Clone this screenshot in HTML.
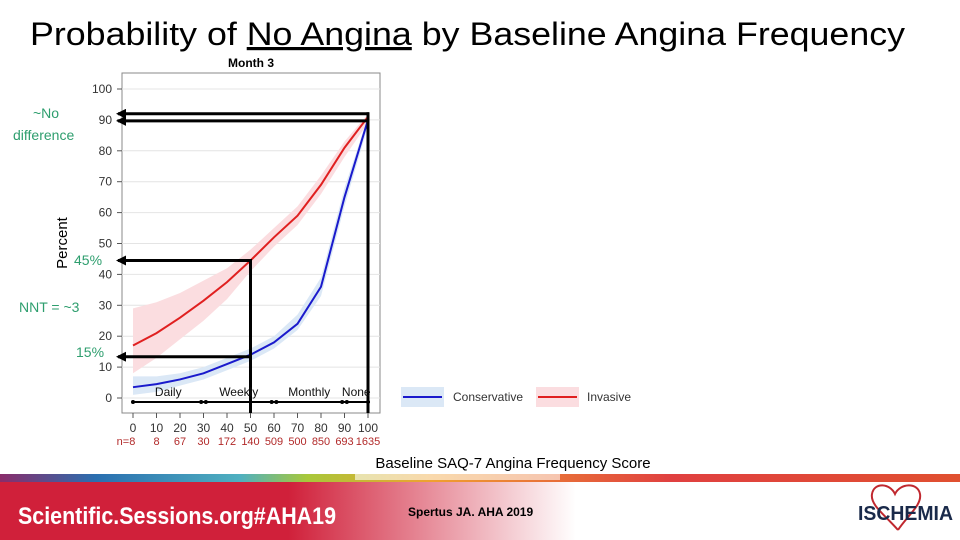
<!DOCTYPE html>
<html><head><meta charset="utf-8"><style>
html,body{margin:0;padding:0;background:#fff;}
svg{display:block;font-family:"Liberation Sans",sans-serif;}
</style></head><body>
<svg id="chart" width="960" height="540" viewBox="0 0 960 540" xmlns="http://www.w3.org/2000/svg">
<defs>
<linearGradient id="foot" x1="0" x2="1" y1="0" y2="0">
<stop offset="0" stop-color="#d0203a"/><stop offset="0.3" stop-color="#d0203a"/><stop offset="0.6" stop-color="#ffffff"/><stop offset="1" stop-color="#ffffff"/></linearGradient>
<linearGradient id="stripe" x1="0" x2="1" y1="0" y2="0">
<stop offset="0" stop-color="#8a2c6a"/><stop offset="0.1" stop-color="#2a6fb0"/><stop offset="0.25" stop-color="#4fb0c0"/><stop offset="0.32" stop-color="#a8c83a"/><stop offset="0.45" stop-color="#f0a030"/><stop offset="0.7" stop-color="#e04040"/><stop offset="1" stop-color="#e05030"/></linearGradient>
<marker id="ah" markerWidth="10" markerHeight="10" refX="8" refY="5" orient="auto" markerUnits="userSpaceOnUse"><path d="M0,0 L10,5 L0,10 Z" fill="#000"/></marker>
</defs>
<text x="30" y="45" font-size="32" textLength="875" lengthAdjust="spacingAndGlyphs" fill="#000">Probability of <tspan text-decoration="underline">No Angina</tspan> by Baseline Angina Frequency</text>
<text x="251" y="67" font-size="12" font-weight="bold" text-anchor="middle">Month 3</text>
<rect x="122" y="73" width="258" height="340" fill="none" stroke="#888" stroke-width="1"/>
<g id="grid"></g><g id="bands"></g><g id="lines"></g><g id="axes"></g><g id="ann"></g>
<text transform="translate(67,243) rotate(-90)" font-size="15" text-anchor="middle">Percent</text>
<text x="513" y="468" font-size="15" text-anchor="middle">Baseline SAQ-7 Angina Frequency Score</text>
<g>
<rect x="401" y="387" width="43" height="20" fill="#dbe8f6"/>
<line x1="403" y1="397" x2="442" y2="397" stroke="#1a1acc" stroke-width="2"/>
<text x="453" y="401" font-size="12" fill="#333">Conservative</text>
<rect x="536" y="387" width="43" height="20" fill="#fbdde0"/>
<line x1="538" y1="397" x2="577" y2="397" stroke="#e02020" stroke-width="2"/>
<text x="587" y="401" font-size="12" fill="#333">Invasive</text>
</g>
<rect x="0" y="474" width="960" height="8" fill="url(#stripe)"/>
<rect x="355" y="474" width="205" height="6" fill="#fff" opacity="0.6"/>
<rect x="0" y="482" width="960" height="58" fill="url(#foot)"/>
<text x="18" y="524" font-size="24" font-weight="bold" fill="#fff" textLength="318" lengthAdjust="spacingAndGlyphs">Scientific.Sessions.org#AHA19</text>
<text x="408" y="516" font-size="12" font-weight="bold" fill="#000">Spertus JA. AHA 2019</text>
<path d="M898,530 C885,515 870,505 872,494 C874,482 890,483 895,494 C900,483 918,482 920,494 C922,505 908,515 898,530" fill="none" stroke="#c0282f" stroke-width="2"/>
<text x="858" y="520" font-size="20" font-weight="bold" fill="#1a2a4a" textLength="95" lengthAdjust="spacingAndGlyphs">ISCHEMIA</text>
</svg>
<script>
const xTicks=[0,10,20,30,40,50,60,70,80,90,100];
const yTicks=[0,10,20,30,40,50,60,70,80,90,100];
const nLabels=["n=8","8","67","30","172","140","509","500","850","693","1635"];
const scores=[0,10,20,30,40,50,60,70,80,90,100];
const invasive=[17,21,26,31.5,37.5,44.5,52,59,69,81,91];
const invasiveHi=[29,31,34,38,42,48,55,62,72,83,92];
const invasiveLo=[8,13,19,25,32,41,49,56,66,78,89];
const conservative=[3.5,4.5,6,8,11,14,18,24,36,65,90];
const conservativeHi=[7,7,8,10,13,16,20,27,39,68,91];
const conservativeLo=[1,2,4,6,9,12,16,22,33,62,88];
const freqLabels=["Daily","Weekly","Monthly","None"];
const freqCenters=[15,45,75,95];
const NS="http://www.w3.org/2000/svg";
const X=v=>133+v*2.35, Y=v=>398-v*3.09;
function mk(t,a,p,txt){const e=document.createElementNS(NS,t);for(const k in a)e.setAttribute(k,a[k]);if(txt!==undefined)e.textContent=txt;p.appendChild(e);return e;}
const g=document.getElementById('grid'),b=document.getElementById('bands'),l=document.getElementById('lines'),ax=document.getElementById('axes'),an=document.getElementById('ann');
yTicks.forEach(v=>{
 const gl=mk('line',{x1:122,x2:380,y1:Y(v),y2:Y(v),stroke:'#e4e4e4'},g);
 
 const tk=mk('line',{x1:117,x2:122,y1:Y(v),y2:Y(v),stroke:'#555'},ax);
 
 const t=mk('text',{x:112,y:Y(v)+4,'font-size':12,'text-anchor':'end',fill:'#333'},ax,String(v));
 
});
xTicks.forEach((v,i)=>{
 const tk=mk('line',{x1:X(v),x2:X(v),y1:413,y2:418,stroke:'#555'},ax);
 
 const t=mk('text',{x:X(v),y:432,'font-size':12,'text-anchor':'middle',fill:'#333'},ax,String(v));
 
 const n=mk('text',{x:i==0?X(v)-7:X(v),y:445,'font-size':11,'text-anchor':'middle',fill:'#b22a2a'},ax,nLabels[i]);
 
});
function band(hi,lo,fill,name){
 let d='M'+scores.map((s,i)=>X(s)+','+Y(hi[i])).join(' L')+' L'+scores.slice().reverse().map((s,j)=>X(s)+','+Y(lo[lo.length-1-j])).join(' L')+'Z';
 const p=mk('path',{d:d,fill:fill},b);
}
band(invasiveHi,invasiveLo,'#fbdde0','invasive-ci-band');
band(conservativeHi,conservativeLo,'#dbe8f6','conservative-ci-band');
function line(vals,col,name){
 const p=mk('polyline',{points:scores.map((s,i)=>X(s)+','+Y(vals[i])).join(' '),fill:'none',stroke:col,'stroke-width':2},l);
 
}
line(invasive,'#e02020','invasive-line');
line(conservative,'#1a1acc','conservative-line');
function hl(y,x2,name){const e=mk('line',{x1:x2,y1:y,x2:118,y2:y,stroke:'#000','stroke-width':3,'marker-end':'url(#ah)'},an);}
hl(Y(invasive[10])-3,X(100)+1,'arrow-invasive-100');
hl(Y(conservative[10])+1,X(100)+1,'arrow-conservative-100');
hl(Y(invasive[5]),X(50)+1,'arrow-invasive-50');
hl(Y(conservative[5])+2,X(50)+1,'arrow-conservative-50');
let v1=mk('line',{x1:X(100),y1:Y(invasive[10])-4.5,x2:X(100),y2:413,stroke:'#000','stroke-width':3},an);

let v2=mk('line',{x1:X(50),y1:Y(invasive[5])-1.5,x2:X(50),y2:413,stroke:'#000','stroke-width':3},an);

let br=mk('line',{x1:X(0),y1:402,x2:X(100)+2,y2:402,stroke:'#000','stroke-width':2},an);

[0,29,31,59,61,89,91,100].forEach(v=>{const d=mk('circle',{cx:X(v),cy:402,r:2,fill:'#000'},an);});
freqLabels.forEach((f,i)=>{const t=mk('text',{x:X(freqCenters[i]),y:396,'font-size':12,'text-anchor':'middle',fill:'#111'},an,f);});
const greens=[["~No",33,118],["difference",13,140],["45%",74,265],["NNT = ~3",19,312],["15%",76,357]];
greens.forEach(gg=>{const t=mk('text',{x:gg[1],y:gg[2],'font-size':14,fill:'#2e9e6e'},an,gg[0]);});
</script>
</body></html>
